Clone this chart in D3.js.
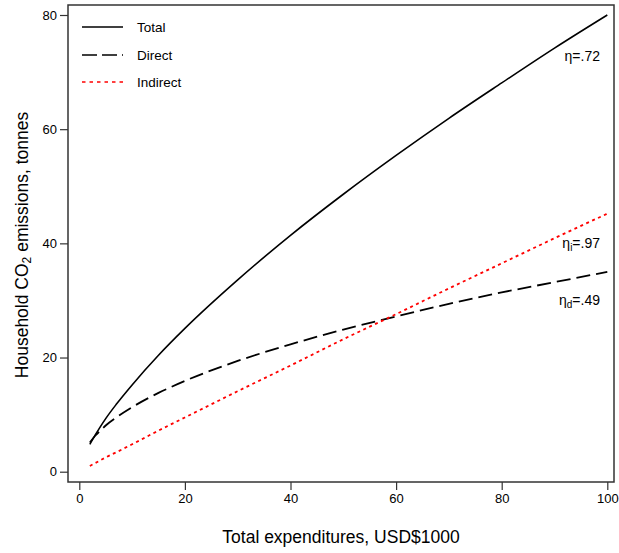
<!DOCTYPE html>
<html><head><meta charset="utf-8">
<script src="https://cdn.jsdelivr.net/npm/d3@7"></script>
<style>body{margin:0;background:#fff}svg{display:block}text{font-family:"Liberation Sans",Arial,sans-serif;fill:#000}</style>
</head><body><svg id="c" width="619" height="553"></svg>
<script>
const xs =       [2,   3,   4,   5,   7,   10,  15,  20,  30,  40,  50,  60,  70,  80,  90,  100];
const total =    [4.8, 6.4, 7.9, 9.3, 11.8,15.2,20.4,25.1,33.6,41.4,48.6,55.4,61.9,68.1,74.2,80.0];
const direct =   [5.1, 6.3, 7.2, 8.1, 9.5, 11.3,13.8,15.9,19.4,22.3,24.9,27.2,29.4,31.4,33.2,35.0];
const indirect = [1.0, 1.5, 2.0, 2.5, 3.4, 4.8, 7.2, 9.5, 14.1,18.6,23.2,27.6,32.1,36.5,40.9,45.2];
const xTicks = [0,20,40,60,80,100];
const yTicks = [0,20,40,60,80];
const legendLabels = ["Total","Direct","Indirect"];

const svg = d3.select("#c");
const x = d3.scaleLinear().domain([0,100]).range([79.3,607.3]);
const y = d3.scaleLinear().domain([0,80]).range([471.7,15]);
const L=68, R=614, T=5, B=482;

svg.append("rect").attr("x",L).attr("y",T).attr("width",R-L).attr("height",B-T)
  .attr("fill","none").attr("stroke","#333").attr("stroke-width",1.5);

const xa = svg.append("g").attr("transform",`translate(0,${B})`)
  .call(d3.axisBottom(x).tickValues(xTicks).tickSize(8).tickPadding(4).tickFormat(d3.format("d")));
const ya = svg.append("g").attr("transform",`translate(${L},0)`)
  .call(d3.axisLeft(y).tickValues(yTicks).tickSize(8).tickPadding(3).tickFormat(d3.format("d")));
[xa,ya].forEach(a=>{a.select(".domain").remove();
  a.selectAll("line").attr("stroke","#333").attr("stroke-width",1.2);
  a.selectAll("text").style("font-family",'"Liberation Sans",Arial,sans-serif').style("font-size","13px").attr("fill","#111");});

const line = d3.line().x((d,i)=>x(xs[i])).y(d=>y(d)).curve(d3.curveMonotoneX);
const styles = [
  {data:total, color:"#000", w:1.6, dash:null},
  {data:direct, color:"#000", w:1.8, dash:"14,6"},
  {data:indirect, color:"#ff0000", w:1.8, dash:"3,3.5"}
];
styles.forEach(s=>{
  svg.append("path").attr("d",line(s.data)).attr("fill","none")
    .attr("stroke",s.color).attr("stroke-width",s.w).attr("stroke-dasharray",s.dash);
});

// legend
const legYs=[27,55,82];
legendLabels.forEach((lab,i)=>{
  const s=styles[i];
  svg.append("line").attr("x1",82).attr("x2",123).attr("y1",legYs[i]).attr("y2",legYs[i])
    .attr("stroke",s.color).attr("stroke-width",1.6)
    .attr("stroke-dasharray", i==1?"15,5":(i==2?"3.5,4":null));
  svg.append("text").attr("x",137).attr("y",legYs[i]+5).style("font-size","13.5px").text(lab);
});

// annotations
function ann(yb, sub, val){
  const t=svg.append("text").attr("x",600).attr("y",yb).attr("text-anchor","end").style("font-size","14px");
  t.append("tspan").text("η");
  if(sub) t.append("tspan").attr("baseline-shift","-25%").style("font-size","10px").text(sub);
  t.append("tspan").text("=."+val);
}
ann(61,null,"72");
ann(248,"i","97");
ann(305,"d","49");

// axis titles
svg.append("text").attr("x",341).attr("y",543).attr("text-anchor","middle").style("font-size","17.5px")
  .text("Total expenditures, USD$1000");
const yt=svg.append("text").attr("transform","translate(28,245) rotate(-90)").attr("text-anchor","middle").style("font-size","17.5px");
yt.append("tspan").text("Household CO");
yt.append("tspan").attr("baseline-shift","-25%").style("font-size","12px").text("2");
yt.append("tspan").text(" emissions, tonnes");
</script></body></html>
